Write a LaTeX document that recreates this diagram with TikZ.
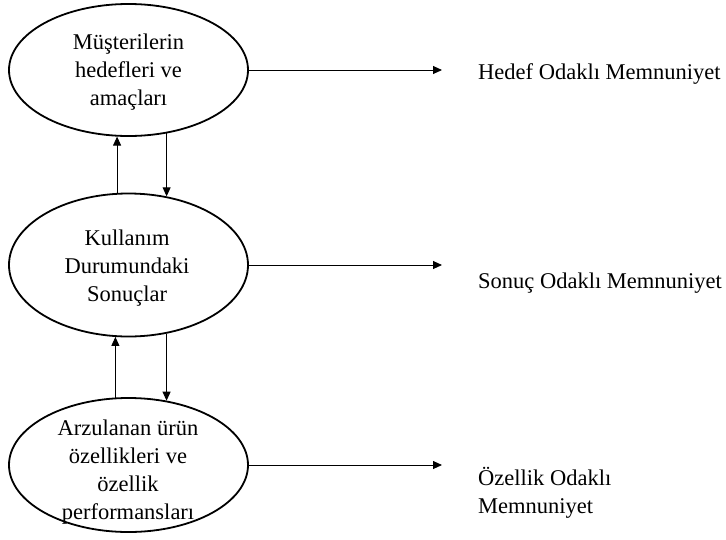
\documentclass[tikz,border=0pt]{standalone}
\usepackage{fontspec}
\setmainfont{Liberation Serif}
\usetikzlibrary{shapes.geometric,arrows.meta}
\begin{document}
\begin{tikzpicture}[x=1pt,y=-1pt,
  oval/.style={ellipse,draw,line width=1.8pt,minimum width=239pt,inner sep=0pt},
  lbl/.style={font=\fontsize{22.5}{28}\selectfont,align=center,inner sep=0pt},
  side/.style={font=\fontsize{22.5}{28}\selectfont,align=left,inner sep=0pt,anchor=base west},
  arr/.style={line width=0.9pt,-{Triangle[length=9pt,width=8pt]}}]
\useasboundingbox (0,0) rectangle (726,539);
% the three stages of the model
\node[oval,minimum height=132pt] (e1) at (128.5,70) {};
\node[oval,minimum height=143pt] (e2) at (128.5,265) {};
\node[oval,minimum height=134pt] (e3) at (128.5,465) {};
\node[lbl] (t1) at (128.5,72) {Müşterilerin\\hedefleri ve\\amaçları};
\node[lbl] (t2) at (127,268) {Kullanım\\Durumundaki\\Sonuçlar};
\node[lbl] (t3) at (128,472) {Arzulanan ürün\\özellikleri ve\\özellik\\performansları};
% satisfaction types (base anchor sits on the last line)
\node[side] (r1) at (478,79) {Hedef Odaklı Memnuniyet};
\node[side] (r2) at (478,288) {Sonuç Odaklı Memnuniyet};
\node[side] (r3) at (478,513) {Özellik Odaklı\\Memnuniyet};
% arrows to the satisfaction types end here
\coordinate (hx) at (442,0);
\draw[arr] (e1.east) -- (e1.east -| hx);
\draw[arr] (e2.east) -- (e2.east -| hx);
\draw[arr] (e3.east) -- (e3.east -| hx);
% feedback between stages
\draw[arr] (e2.99) -- (e2.99 |- e1.260);
\draw[arr] (e1.301) -- (e1.301 |- e2.61);
\draw[arr] (e3.101.5) -- (e3.101.5 |- e2.259);
\draw[arr] (e2.299) -- (e2.299 |- e3.59.5);
\end{tikzpicture}
\end{document}
